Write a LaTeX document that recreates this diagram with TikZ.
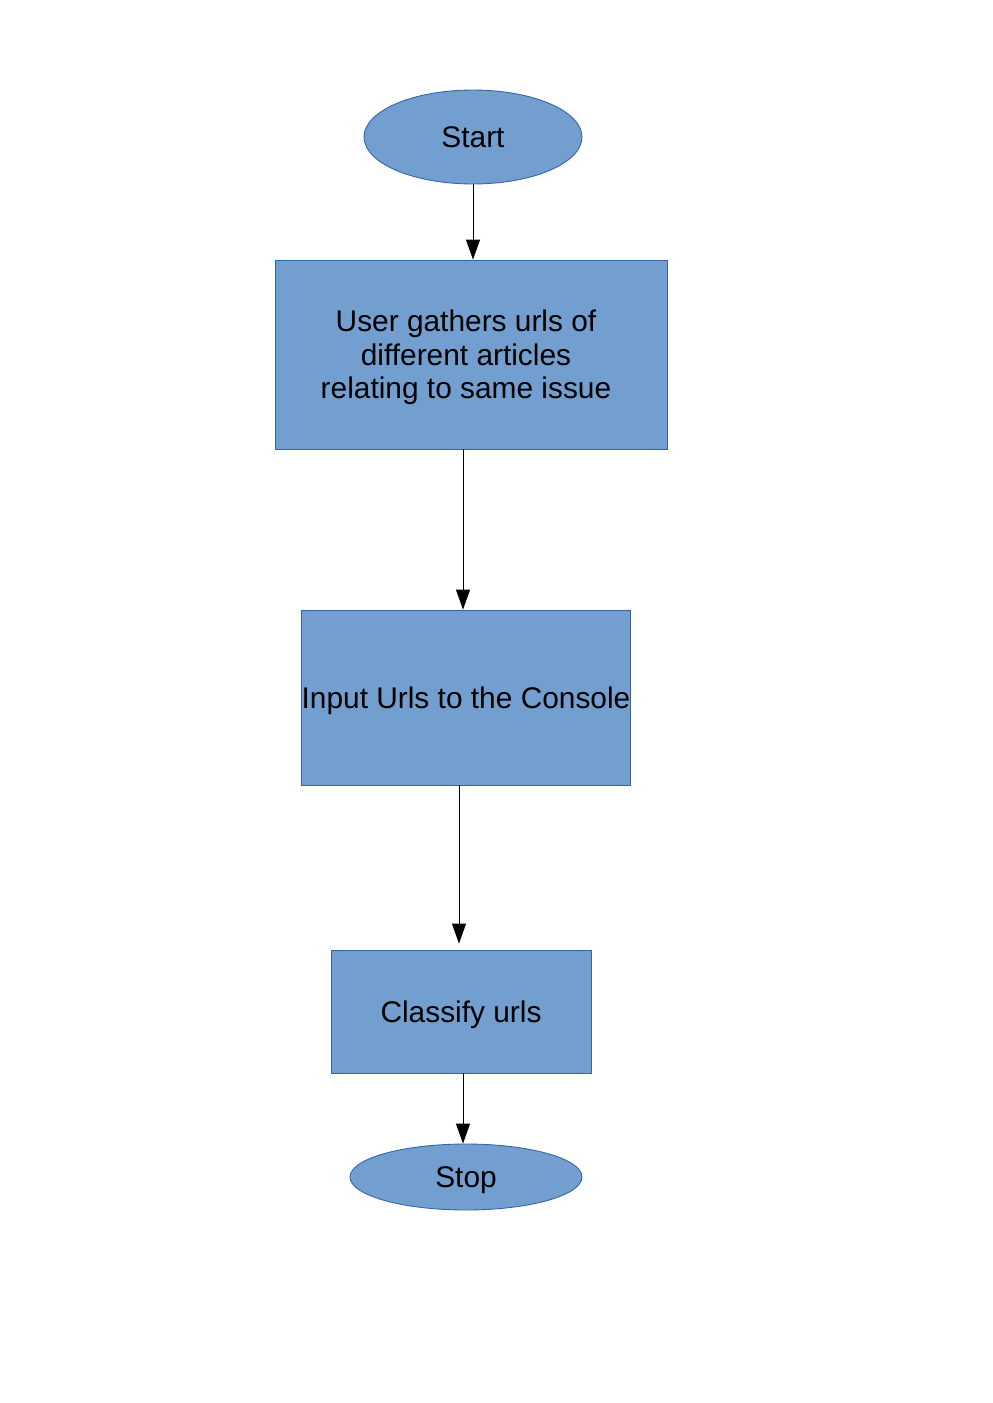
\documentclass[tikz,border=0pt]{standalone}
\usepackage{fontspec}
\setmainfont{Liberation Sans}
\usetikzlibrary{arrows.meta}
\usetikzlibrary{shapes.geometric}

\definecolor{boxfill}{HTML}{729FCF}
\definecolor{boxline}{HTML}{3465A4}

\begin{document}
\begin{tikzpicture}[x=0.02cm,y=-0.02cm,
  terminal/.style={ellipse,draw=boxline,fill=boxfill,line width=0.5pt,inner sep=0pt,text depth=0pt,font=\fontsize{17}{19.1}\selectfont},
  process/.style={rectangle,draw=boxline,fill=boxfill,line width=0.5pt,inner sep=0pt,text depth=0pt,align=center,font=\fontsize{17}{19.1}\selectfont},
  flow/.style={black,line width=0.5pt,-{Triangle[length=4mm,width=2.8mm]}}]

\useasboundingbox[fill=white] (0,0) rectangle (992,1403);

\node[terminal, minimum width=4.36cm, minimum height=1.88cm] (start) at (473,137) {Start};
\node[process, minimum width=7.84cm, minimum height=3.78cm] (gather) at (471,354.5) {};
\node (gathertext) at (466,354.5) [align=center,text depth=0pt,font=\fontsize{17}{19.1}\selectfont] {User gathers urls of\\different articles\\relating to same issue};
\node[process, minimum width=6.52cm, minimum height=3.5cm] (input) at (466,697.5) {Input Urls to the Console};
\node[process, minimum width=5.2cm, minimum height=2.46cm] (classify) at (461,1011.5) {Classify urls};
\node[terminal, minimum width=4.64cm, minimum height=1.32cm] (stop) at (466,1177) {Stop};

\draw[flow] (start.south) -- (start.south |- gather.north);
\draw[flow] ([xshift=-0.16cm]gather.south) -- ([xshift=-0.16cm]gather.south |- input.north);
\draw[flow] ([xshift=-0.14cm]input.south) -- ([xshift=-0.14cm,yshift=0.12cm]input.south |- classify.north);
\draw[flow] ([xshift=0.04cm]classify.south) -- ([xshift=0.04cm]classify.south |- stop.north);

\end{tikzpicture}
\end{document}
